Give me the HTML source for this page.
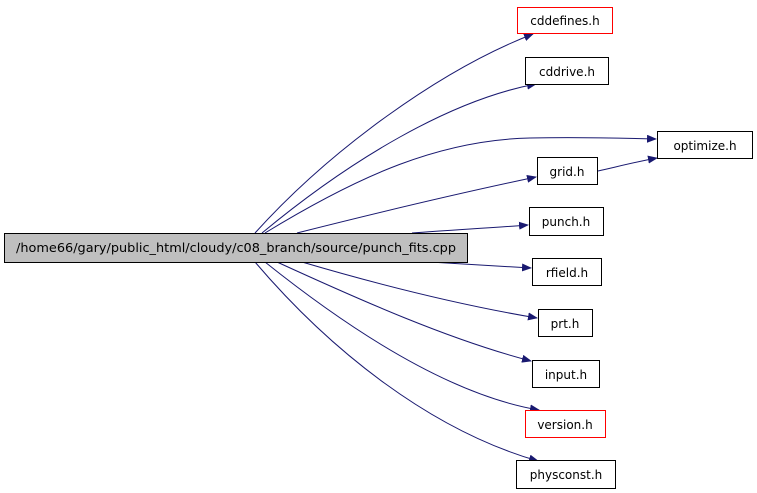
<!DOCTYPE html>
<html><head><style>
body{margin:0;background:#fff;}
svg{display:block;}
text{font-family:"DejaVu Sans","Liberation Sans",sans-serif;font-size:12px;}
</style></head><body>
<svg width="757" height="493" viewBox="0 0 757 493" xmlns="http://www.w3.org/2000/svg">
<defs><marker id="a" markerWidth="10" markerHeight="8" refX="9" refY="4" orient="auto" markerUnits="userSpaceOnUse"><path d="M0,0 L10,4 L0,8 z" fill="#191970"/></marker></defs>
<g fill="none" stroke="#191970" stroke-width="1" marker-end="url(#a)">
<path d="M255,233 C330,150 440,70 533,34"/>
<path d="M262,233 C350,160 450,100 536,84"/>
<path d="M265,233 C360,175 440,140 530,138 C580,137 620,138 656,139"/>
<path d="M297,233 C380,212 460,193 536,177"/>
<path d="M412,233 C450,230 490,228 528,225"/>
<path d="M598,171 C620,166 640,161 657,158"/>
<path d="M430,262 C460,264 495,266 531,268"/>
<path d="M302,262 C380,285 460,305 537,318"/>
<path d="M277,262 C360,300 450,340 531,361"/>
<path d="M265,262 C350,330 450,395 539,410"/>
<path d="M255,262 C330,350 430,430 538,461"/>
</g>
<g stroke-width="1">
<rect x="4.5" y="233.5" width="463" height="29" fill="#bfbfbf" stroke="#000"/>
<rect x="517.5" y="7.5" width="95" height="26" fill="#fff" stroke="#f00"/>
<rect x="525.5" y="57.5" width="83" height="27" fill="#fff" stroke="#000"/>
<rect x="657.5" y="131.5" width="95" height="27" fill="#fff" stroke="#000"/>
<rect x="537.5" y="157.5" width="60" height="27" fill="#fff" stroke="#000"/>
<rect x="529.5" y="207.5" width="74" height="28" fill="#fff" stroke="#000"/>
<rect x="532.5" y="258.5" width="69" height="27" fill="#fff" stroke="#000"/>
<rect x="538.5" y="309.5" width="54" height="27" fill="#fff" stroke="#000"/>
<rect x="532.5" y="360.5" width="67" height="27" fill="#fff" stroke="#000"/>
<rect x="525.5" y="410.5" width="80" height="27" fill="#fff" stroke="#f00"/>
<rect x="516.5" y="460.5" width="99" height="28" fill="#fff" stroke="#000"/>
</g>
<g text-anchor="middle" fill="#000">
<text x="236" y="252" textLength="440" lengthAdjust="spacingAndGlyphs">/home66/gary/public_html/cloudy/c08_branch/source/punch_fits.cpp</text>
<text x="565" y="25">cddefines.h</text>
<text x="567" y="76">cddrive.h</text>
<text x="705" y="150">optimize.h</text>
<text x="567" y="176">grid.h</text>
<text x="566" y="226">punch.h</text>
<text x="567" y="277">rfield.h</text>
<text x="565" y="328">prt.h</text>
<text x="566" y="379">input.h</text>
<text x="565" y="429">version.h</text>
<text x="566" y="479">physconst.h</text>
</g>
</svg>
</body></html>
